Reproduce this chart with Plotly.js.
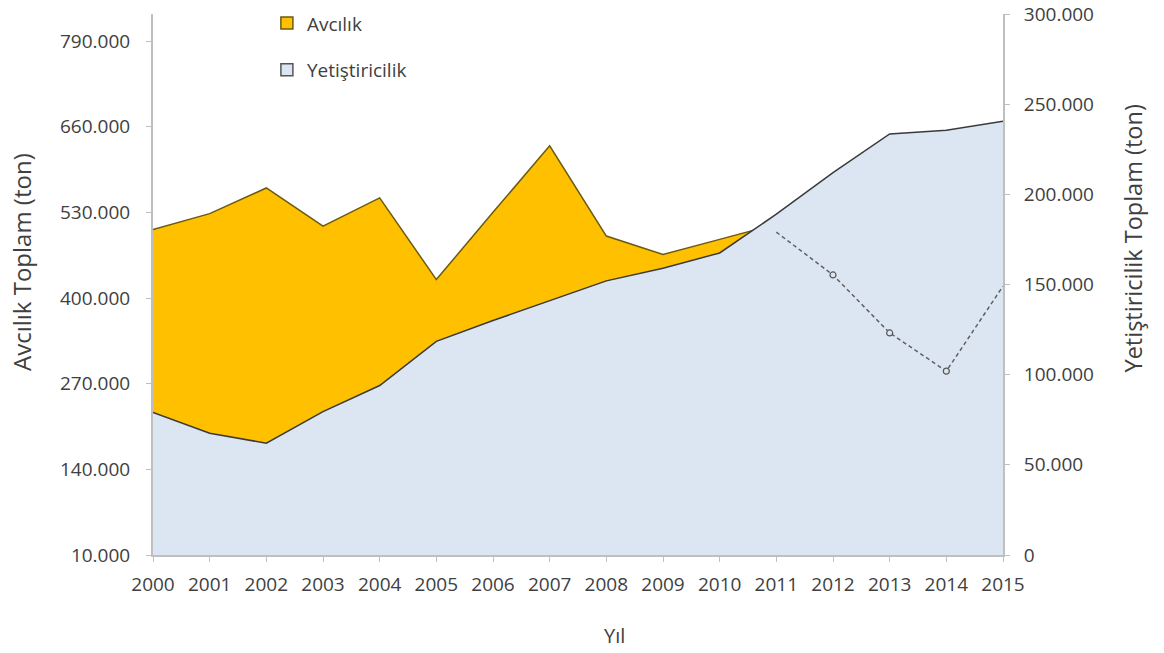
<!DOCTYPE html>
<html>
<head>
<meta charset="utf-8">
<script src="https://cdn.plot.ly/plotly-3.0.1.min.js"></script>
<style>
  html, body { margin: 0; padding: 0; background: #ffffff; }
  #chart { width: 1164px; height: 653px; }
</style>
</head>
<body>
<div id="chart"></div>
<script>
// ---- Data ----
const years = [2000, 2001, 2002, 2003, 2004, 2005, 2006, 2007, 2008, 2009, 2010, 2011, 2012, 2013, 2014, 2015];
// Avcılık area (2000-2011)
const avcilik = [504000, 528000, 567000, 509000, 552000, 428000, 530000, 631000, 494000, 466000, 489000, 512000];
// Avcılık dashed continuation (2011-2015)
const avcilikKesikli = [500000, 435000, 347000, 289000, 418000];
const yetistiricilik = [79000, 67500, 62000, 79500, 94000, 118500, 130000, 141000, 152000, 159000, 167500, 189000, 212000, 233500, 235500, 240500];
const leftTicks = [10000, 140000, 270000, 400000, 530000, 660000, 790000];
const rightTicks = [0, 50000, 100000, 150000, 200000, 250000, 300000];
const seriesNames = ['Avcılık', 'Yetiştiricilik'];
const titles = {x: 'Yıl', left: 'Avcılık Toplam (ton)', right: 'Yetiştiricilik Toplam (ton)'};

// ---- Styles ----
const FONT = 'Open Sans, Noto Sans, sans-serif';
const TXT = '#404040';
const AXIS = '#BFBFBF';
const ORANGE = '#FFC000';
const ORANGE_LINE = '#6B5A12';
const BLUE = '#DCE6F2';
const BLUE_LINE = '#3A3A3A';
const leftRange = [10000, 831000];

const dashedYears = years.slice(years.length - avcilikKesikli.length);

const traces = [
  {
    x: years.slice(0, avcilik.length), y: avcilik, xaxis: 'x', yaxis: 'y',
    type: 'scatter', mode: 'lines', fill: 'tozeroy',
    fillcolor: ORANGE, line: {color: ORANGE_LINE, width: 1.5},
    showlegend: false, hoverinfo: 'x+y'
  },
  {
    x: years, y: yetistiricilik, xaxis: 'x', yaxis: 'y2',
    type: 'scatter', mode: 'lines', fill: 'tozeroy',
    fillcolor: BLUE, line: {color: BLUE_LINE, width: 1.5},
    showlegend: false, hoverinfo: 'x+y'
  },
  {
    x: dashedYears, y: avcilikKesikli, xaxis: 'x', yaxis: 'y3',
    type: 'scatter', mode: 'lines',
    line: {color: '#606060', width: 1.5, dash: '4px,3px'},
    showlegend: false, hoverinfo: 'skip'
  },
  {
    x: dashedYears.slice(1, 4), y: avcilikKesikli.slice(1, 4), xaxis: 'x', yaxis: 'y3',
    type: 'scatter', mode: 'markers',
    marker: {symbol: 'circle', size: 6, color: BLUE, line: {color: '#555555', width: 1.2}},
    showlegend: false, hoverinfo: 'x+y'
  },
  {
    x: [null], y: [null], xaxis: 'x', yaxis: 'y', name: seriesNames[0],
    legendgroup: 'a', type: 'scatter', mode: 'markers',
    marker: {symbol: 'square', size: 12, color: ORANGE, line: {color: ORANGE_LINE, width: 1.5}}
  },
  {
    x: [null], y: [null], xaxis: 'x', yaxis: 'y', name: seriesNames[1],
    legendgroup: 'b', type: 'scatter', mode: 'markers',
    marker: {symbol: 'square', size: 12, color: BLUE, line: {color: '#555555', width: 1.5}}
  }
];

const tickFont = {family: FONT, size: 19, color: TXT};

const layout = {
  width: 1164, height: 653,
  margin: {l: 153, r: 161, t: 14, b: 98, pad: 0, autoexpand: false},
  paper_bgcolor: '#ffffff', plot_bgcolor: '#ffffff',
  separators: ',.',
  font: {family: FONT, color: TXT, size: 19},
  showlegend: true,
  legend: {
    x: 0.134, y: 1.018, xanchor: 'left', yanchor: 'top',
    bgcolor: 'rgba(0,0,0,0)', font: {family: FONT, size: 19, color: TXT},
    tracegroupgap: 19, itemwidth: 30
  },
  xaxis: {
    range: [2000, 2015], tickvals: years, tickformat: 'd',
    showline: true, linecolor: AXIS, linewidth: 2,
    ticks: 'outside', ticklen: 5, tickcolor: AXIS, tickwidth: 1,
    ticklabelstandoff: 6, automargin: false,
    showgrid: false, zeroline: false, tickfont: tickFont
  },
  yaxis: {
    range: leftRange, tickvals: leftTicks, tickformat: ',d',
    showline: true, linecolor: AXIS, linewidth: 2,
    ticks: 'outside', ticklen: 5, tickcolor: AXIS, tickwidth: 1,
    ticklabelstandoff: 12, automargin: false,
    showgrid: false, zeroline: false, tickfont: tickFont
  },
  yaxis2: {
    overlaying: 'y', side: 'right', anchor: 'x',
    range: [0, 300000], tickvals: rightTicks, tickformat: ',d',
    showline: true, linecolor: AXIS, linewidth: 2,
    ticks: 'outside', ticklen: 5, tickcolor: AXIS, tickwidth: 1,
    ticklabelstandoff: 10, automargin: false,
    showgrid: false, zeroline: false, tickfont: tickFont
  },
  yaxis3: {
    overlaying: 'y', anchor: 'x', range: leftRange, visible: false,
    showgrid: false, zeroline: false
  },
  annotations: [
    {text: titles.x, xref: 'paper', yref: 'paper', x: 0.5435, y: -0.148,
     xanchor: 'center', yanchor: 'middle', showarrow: false,
     font: {family: FONT, size: 20, color: TXT}},
    {text: titles.left, xref: 'paper', yref: 'paper', x: -0.1541, y: 0.5416,
     xanchor: 'center', yanchor: 'middle', textangle: -90, showarrow: false,
     font: {family: FONT, size: 24, color: TXT}},
    {text: titles.right, xref: 'paper', yref: 'paper', x: 1.1529, y: 0.585,
     xanchor: 'center', yanchor: 'middle', textangle: -90, showarrow: false,
     font: {family: FONT, size: 23.5, color: TXT}}
  ]
};

Plotly.newPlot('chart', traces, layout, {displayModeBar: false, staticPlot: true});
</script>
</body>
</html>
